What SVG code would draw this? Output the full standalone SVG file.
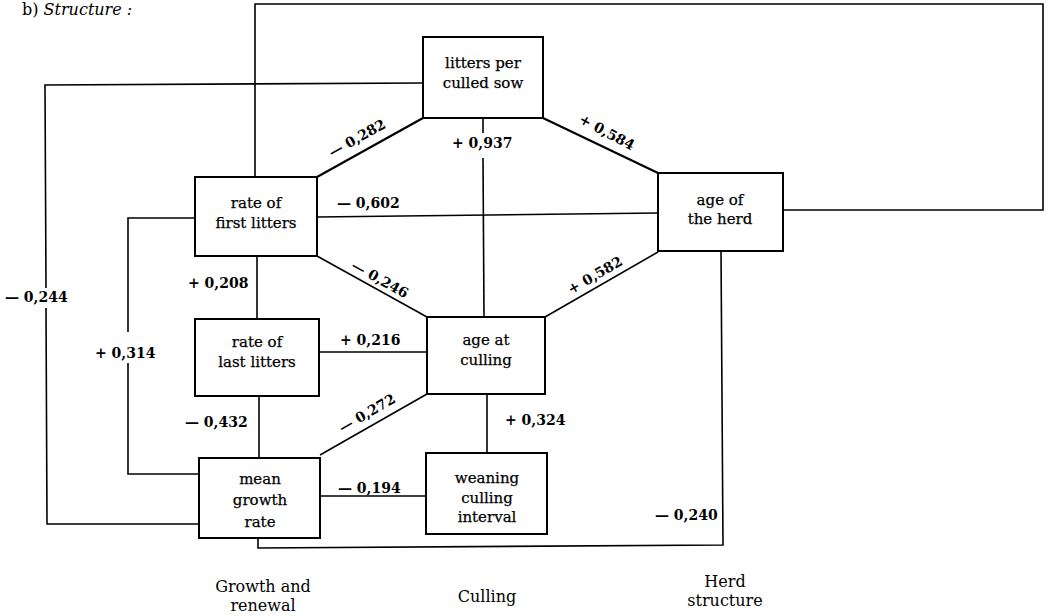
<svg xmlns="http://www.w3.org/2000/svg" width="1050" height="616" viewBox="0 0 1050 616">
<style>
.bg{fill:#fff}
.box{fill:#fff;stroke:#000;stroke-width:2}
.ln{fill:none;stroke:#000;stroke-width:1.6;stroke-linejoin:miter}
.lt{fill:none;stroke:#000;stroke-width:2.2}
.n{font-family:"DejaVu Serif","Liberation Serif",serif;font-size:15px;text-anchor:middle;fill:#000;stroke:#000;stroke-width:0.25}
.v{font-family:"DejaVu Serif","Liberation Serif",serif;font-size:14px;font-weight:bold;fill:#000}
.vm{font-family:"DejaVu Serif","Liberation Serif",serif;font-size:14px;font-weight:bold;fill:#000;text-anchor:middle}
.c{font-family:"DejaVu Serif","Liberation Serif",serif;font-size:16px;text-anchor:middle;fill:#000}
.t{font-family:"DejaVu Serif","Liberation Serif",serif;font-size:16px;fill:#000}
</style>
<rect class="bg" x="0" y="0" width="1050" height="616"/>
<text class="t" x="22" y="15">b)  <tspan font-style="italic">Structure :</tspan></text>

<g id="connectors">
  <!-- top loop: first litters to age of herd -->
  <polyline class="ln" points="255,177 255,4 1043,4 1043,210 783,210"/>
  <!-- outer left loop: litters per culled sow to mean growth rate -->
  <polyline class="ln" points="423,83 45,85 46,288"/>
  <polyline class="ln" points="46,308 47,524 199,524"/>
  <!-- inner left loop: first litters to mean growth -->
  <polyline class="ln" points="195,218 128,218 128,332"/>
  <polyline class="ln" points="128,363 128,474 199,474"/>
  <!-- first litters to herd -->
  <line class="ln" x1="317" y1="217" x2="658" y2="213"/>
  <!-- litters per culled sow diagonals -->
  <line class="lt" x1="423" y1="118" x2="317" y2="177"/>
  <line class="lt" x1="543" y1="118" x2="658" y2="173"/>
  <!-- litters vertical to age at culling -->
  <line class="ln" x1="483" y1="118" x2="483" y2="133"/>
  <line class="ln" x1="483" y1="158" x2="484" y2="317"/>
  <!-- first litters to age at culling -->
  <line class="ln" x1="317" y1="256" x2="427" y2="317"/>
  <!-- herd to age at culling -->
  <line class="ln" x1="658" y1="252" x2="545" y2="317"/>
  <!-- first litters to last litters -->
  <line class="ln" x1="257" y1="256" x2="257" y2="319"/>
  <!-- last litters to age at culling -->
  <line class="ln" x1="319" y1="352" x2="427" y2="352"/>
  <!-- last litters to mean growth -->
  <line class="ln" x1="259" y1="396" x2="259" y2="458"/>
  <!-- age at culling to mean growth -->
  <line class="ln" x1="427" y1="394" x2="320" y2="455"/>
  <!-- age at culling to weaning -->
  <line class="ln" x1="487" y1="394" x2="487" y2="453"/>
  <!-- mean growth to weaning -->
  <line class="ln" x1="320" y1="496" x2="426" y2="496"/>
  <!-- herd to mean growth bottom loop -->
  <polyline class="ln" points="721,251 723,545 258,548 258,538"/>

  <text class="v" x="337" y="208">— 0,602</text>
  <text class="vm" transform="rotate(-29 357 138)" x="357" y="143">— 0,282</text>
  <text class="vm" transform="rotate(28 607 132)" x="607" y="137">+ 0,584</text>
  <text class="v" x="452" y="148">+ 0,937</text>
  <text class="vm" transform="rotate(29 380 279)" x="380" y="284">— 0,246</text>
  <text class="vm" transform="rotate(-30 595 275)" x="595" y="280">+ 0,582</text>
  <text class="v" x="188" y="288">+ 0,208</text>
  <text class="v" x="5" y="302">— 0,244</text>
  <text class="v" x="95" y="358">+ 0,314</text>
  <text class="v" x="340" y="345">+ 0,216</text>
  <text class="v" x="185" y="427">— 0,432</text>
  <text class="vm" transform="rotate(-30 367 413)" x="367" y="418">— 0,272</text>
  <text class="v" x="505" y="425">+ 0,324</text>
  <text class="v" x="338" y="493">— 0,194</text>
  <text class="v" x="655" y="520">— 0,240</text>
</g>

<g id="litters-per-culled-sow">
  <rect class="box" x="423" y="37" width="120" height="81"/>
  <text class="n" x="483" y="68">litters per</text>
  <text class="n" x="483" y="88">culled sow</text>
</g>
<g id="rate-of-first-litters">
  <rect class="box" x="195" y="177" width="122" height="79"/>
  <text class="n" x="256" y="208">rate of</text>
  <text class="n" x="256" y="228">first litters</text>
</g>
<g id="age-of-the-herd">
  <rect class="box" x="658" y="173" width="125" height="78"/>
  <text class="n" x="720" y="205">age of</text>
  <text class="n" x="720" y="224">the herd</text>
</g>
<g id="rate-of-last-litters">
  <rect class="box" x="195" y="319" width="124" height="77"/>
  <text class="n" x="257" y="347">rate of</text>
  <text class="n" x="257" y="367">last litters</text>
</g>
<g id="age-at-culling">
  <rect class="box" x="427" y="317" width="118" height="77"/>
  <text class="n" x="486" y="345">age at</text>
  <text class="n" x="486" y="365">culling</text>
</g>
<g id="mean-growth-rate">
  <rect class="box" x="199" y="458" width="121" height="80"/>
  <text class="n" x="260" y="484">mean</text>
  <text class="n" x="260" y="505">growth</text>
  <text class="n" x="260" y="527">rate</text>
</g>
<g id="weaning-culling-interval">
  <rect class="box" x="426" y="453" width="121" height="81"/>
  <text class="n" x="487" y="483">weaning</text>
  <text class="n" x="487" y="503">culling</text>
  <text class="n" x="487" y="522">interval</text>
</g>

<g id="column-labels">
  <text class="c" x="263" y="592">Growth and</text>
  <text class="c" x="263" y="611">renewal</text>
  <text class="c" x="487" y="602">Culling</text>
  <text class="c" x="725" y="587">Herd</text>
  <text class="c" x="725" y="606">structure</text>
</g>
</svg>
